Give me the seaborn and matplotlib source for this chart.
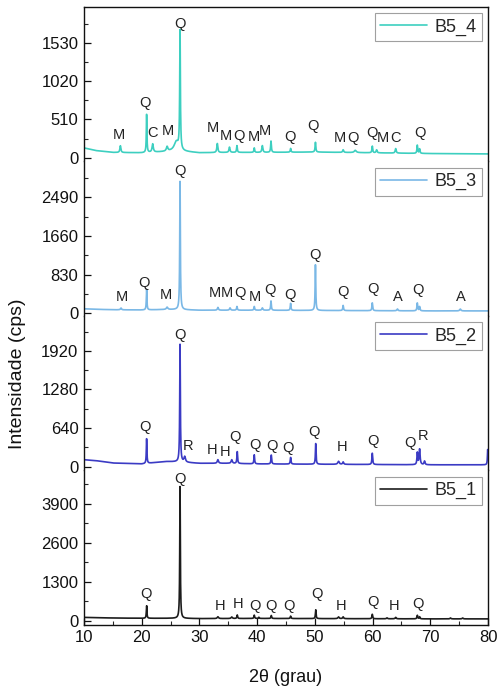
import numpy as np
import pandas as pd
import matplotlib
matplotlib.use("Agg")
import matplotlib.pyplot as plt
import seaborn as sns
from matplotlib.ticker import MultipleLocator

# ---------------- data ----------------
samples = ["B5_4", "B5_3", "B5_2", "B5_1"]

# background knots (2theta, cps)
bg_x = [10, 12, 15, 20, 24, 26, 30, 35, 40, 50, 60, 70, 80]
bg_B5_4 = [130, 95, 70, 65, 80, 90, 65, 70, 70, 75, 65, 55, 50]
bg_B5_3 = [95, 85, 75, 70, 80, 80, 65, 65, 65, 60, 55, 50, 50]
bg_B5_2 = [115, 100, 60, 45, 85, 80, 55, 55, 45, 40, 35, 30, 30]
bg_B5_1 = [110, 100, 90, 80, 80, 80, 70, 72, 75, 70, 65, 60, 60]

# peaks: position (2theta), height above background (cps), FWHM (deg)
pk_B5_4_pos = [16.3, 20.85, 21.9, 24.4, 26.0, 26.64, 33.1, 35.2, 36.5, 39.5, 40.9, 42.4, 45.8, 50.1, 54.9, 57.0, 59.95, 60.7, 64.0, 67.75, 68.15]
pk_B5_4_h   = [90, 520, 110, 60, 120, 1580, 120, 70, 90, 60, 90, 150, 50, 130, 35, 30, 90, 40, 60, 110, 60]
pk_B5_4_w   = [0.2, 0.12, 0.25, 0.3, 0.9, 0.14, 0.2, 0.2, 0.15, 0.15, 0.2, 0.15, 0.15, 0.15, 0.2, 0.4, 0.15, 0.2, 0.2, 0.15, 0.15]

pk_B5_3_pos = [16.4, 20.85, 24.4, 26.64, 33.2, 35.3, 36.5, 39.5, 40.9, 42.4, 45.8, 50.1, 54.9, 59.95, 64.3, 67.75, 68.15, 75.2]
pk_B5_3_h   = [40, 450, 50, 2750, 60, 50, 80, 80, 50, 200, 150, 980, 110, 170, 40, 170, 90, 40]
pk_B5_3_w   = [0.2, 0.12, 0.3, 0.13, 0.2, 0.2, 0.15, 0.15, 0.2, 0.14, 0.14, 0.13, 0.15, 0.15, 0.2, 0.15, 0.15, 0.25]

pk_B5_2_pos = [20.85, 26.64, 27.45, 33.2, 35.6, 36.55, 39.5, 42.45, 45.8, 50.15, 54.1, 54.9, 59.95, 67.75, 68.15, 69.0, 79.95]
pk_B5_2_h   = [420, 1950, 90, 60, 60, 200, 150, 150, 110, 350, 50, 40, 190, 200, 260, 60, 260]
pk_B5_2_w   = [0.12, 0.13, 0.3, 0.25, 0.25, 0.14, 0.14, 0.14, 0.15, 0.13, 0.3, 0.2, 0.15, 0.15, 0.2, 0.2, 0.12]

pk_B5_1_pos = [20.85, 26.64, 33.2, 35.6, 36.55, 39.5, 40.3, 42.45, 45.8, 50.15, 54.1, 54.9, 59.95, 62.5, 64.0, 67.75, 68.15, 73.5, 75.6]
pk_B5_1_h   = [430, 4400, 60, 50, 120, 110, 40, 100, 80, 300, 60, 60, 150, 30, 50, 120, 70, 30, 30]
pk_B5_1_w   = [0.12, 0.12, 0.25, 0.25, 0.14, 0.14, 0.15, 0.14, 0.15, 0.13, 0.25, 0.2, 0.15, 0.2, 0.2, 0.15, 0.15, 0.2, 0.2]

# phase labels: text, 2theta, cps
lab_B5_4_t = ["M", "Q", "C", "M", "Q", "M", "M", "Q", "M", "M", "Q", "Q", "M", "Q", "Q", "M", "C", "Q"]
lab_B5_4_x = [16.1, 20.6, 21.8, 24.6, 26.6, 32.4, 34.6, 36.9, 39.4, 41.4, 45.7, 49.7, 54.4, 56.6, 59.9, 61.8, 63.9, 68.2]
lab_B5_4_y = [302, 728, 329, 356, 1780, 396, 289, 289, 275, 360, 275, 422, 262, 262, 329, 262, 262, 329]

lab_B5_3_t = ["M", "Q", "M", "Q", "M", "M", "Q", "M", "Q", "Q", "Q", "Q", "Q", "A", "Q", "A"]
lab_B5_3_x = [16.6, 20.4, 24.2, 26.6, 32.7, 34.8, 37.0, 39.6, 42.2, 45.7, 50.0, 54.9, 60.1, 64.4, 67.9, 75.3]
lab_B5_3_y = [350, 650, 393, 3050, 435, 435, 435, 350, 500, 393, 1250, 457, 520, 350, 500, 350]

lab_B5_2_t = ["Q", "Q", "R", "H", "H", "Q", "Q", "Q", "Q", "Q", "H", "Q", "Q", "R"]
lab_B5_2_x = [20.6, 26.6, 28.0, 32.2, 34.4, 36.2, 39.6, 42.5, 45.4, 49.9, 54.7, 60.1, 66.5, 68.8]
lab_B5_2_y = [660, 2185, 345, 278, 245, 490, 360, 345, 310, 575, 330, 425, 395, 510]

lab_B5_1_t = ["Q", "Q", "H", "H", "Q", "Q", "Q", "Q", "H", "Q", "H", "Q"]
lab_B5_1_x = [20.7, 26.6, 33.6, 36.7, 39.6, 42.4, 45.5, 50.4, 54.5, 60.1, 63.7, 67.9]
lab_B5_1_y = [900, 4740, 500, 570, 500, 500, 500, 900, 500, 635, 500, 570]

y_major = {"B5_4": 510, "B5_3": 830, "B5_2": 640, "B5_1": 1300}
y_lims = {"B5_4": (-48, 2011), "B5_3": (-56, 3260), "B5_2": (-63, 2500), "B5_1": (-144, 5017)}
colors = {"B5_4": "#3dcfc0", "B5_3": "#7ab8e6", "B5_2": "#3b3bc4", "B5_1": "#1c1c1c"}

bgs = {"B5_4": bg_B5_4, "B5_3": bg_B5_3, "B5_2": bg_B5_2, "B5_1": bg_B5_1}
pks = {"B5_4": (pk_B5_4_pos, pk_B5_4_h, pk_B5_4_w),
       "B5_3": (pk_B5_3_pos, pk_B5_3_h, pk_B5_3_w),
       "B5_2": (pk_B5_2_pos, pk_B5_2_h, pk_B5_2_w),
       "B5_1": (pk_B5_1_pos, pk_B5_1_h, pk_B5_1_w)}
labs = {"B5_4": (lab_B5_4_t, lab_B5_4_x, lab_B5_4_y),
        "B5_3": (lab_B5_3_t, lab_B5_3_x, lab_B5_3_y),
        "B5_2": (lab_B5_2_t, lab_B5_2_x, lab_B5_2_y),
        "B5_1": (lab_B5_1_t, lab_B5_1_x, lab_B5_1_y)}

two_theta = np.arange(10, 80.001, 0.02)


def pattern(name):
    y = np.interp(two_theta, bg_x, bgs[name])
    for p, h, w in zip(*pks[name]):
        g = w / 2.0
        y = y + h * g**2 / ((two_theta - p)**2 + g**2)
    return y


# ---------------- figure ----------------
sns.set_style("ticks")
plt.rcParams["font.family"] = ["Liberation Sans", "DejaVu Sans"]
plt.rcParams["axes.linewidth"] = 1.0

fig = plt.figure(figsize=(4.97, 6.90), dpi=100)
left, right = 84 / 497, 488 / 497
top, bottom = 1 - 6.7 / 690, 1 - 625 / 690
h = (top - bottom) / 4

for i, name in enumerate(samples):
    ax = fig.add_axes([left, top - (i + 1) * h, right - left, h])
    df = pd.DataFrame({"2θ": two_theta, "I": pattern(name)})
    sns.lineplot(data=df, x="2θ", y="I", ax=ax, color=colors[name],
                 linewidth=1.2, label=name, estimator=None, sort=False)
    ax.set_xlim(10, 80)
    ax.set_ylim(*y_lims[name])
    ax.set_xlabel("")
    ax.set_ylabel("")
    step = y_major[name]
    ax.set_yticks([0, step, 2 * step, 3 * step])
    ax.yaxis.set_minor_locator(MultipleLocator(step / 2))
    ax.xaxis.set_major_locator(MultipleLocator(10))
    ax.xaxis.set_minor_locator(MultipleLocator(5))
    ax.tick_params(axis="y", which="major", direction="in", length=5, width=0.9,
                   labelsize=12, colors="#111111", pad=4, right=False)
    ax.tick_params(axis="y", which="minor", direction="in", length=3, width=0.8, right=False)
    ax.tick_params(axis="x", which="both", direction="in", top=False)
    ax.tick_params(axis="x", which="major", length=5, width=0.9, labelsize=12, colors="#111111")
    ax.tick_params(axis="x", which="minor", length=3, width=0.8)
    for s in ["left", "right", "top", "bottom"]:
        ax.spines[s].set_color("#111111")
    if i > 0:
        ax.spines["top"].set_visible(False)
    if i < 3:
        ax.spines["bottom"].set_visible(False)
        ax.tick_params(axis="x", which="both", bottom=False, labelbottom=False)
    for t, x, y in zip(*labs[name]):
        ax.text(x, y, t, ha="center", va="center", fontsize=10.5, color="#222222")
    leg = ax.legend(loc="upper right", fontsize=13, frameon=True, fancybox=False,
                    handlelength=2.6, handletextpad=0.4, borderpad=0.3,
                    borderaxespad=0.35, edgecolor="#888888")
    leg.get_frame().set_linewidth(0.8)

fig.text(286 / 497, 1 - 677 / 690, "2θ (grau)", ha="center", va="center",
         fontsize=13, color="#111111")
fig.text(18 / 497, 1 - 374 / 690, "Intensidade (cps)", ha="center", va="center",
         rotation=90, fontsize=14, color="#111111")

fig.savefig("out.png", dpi=100)
